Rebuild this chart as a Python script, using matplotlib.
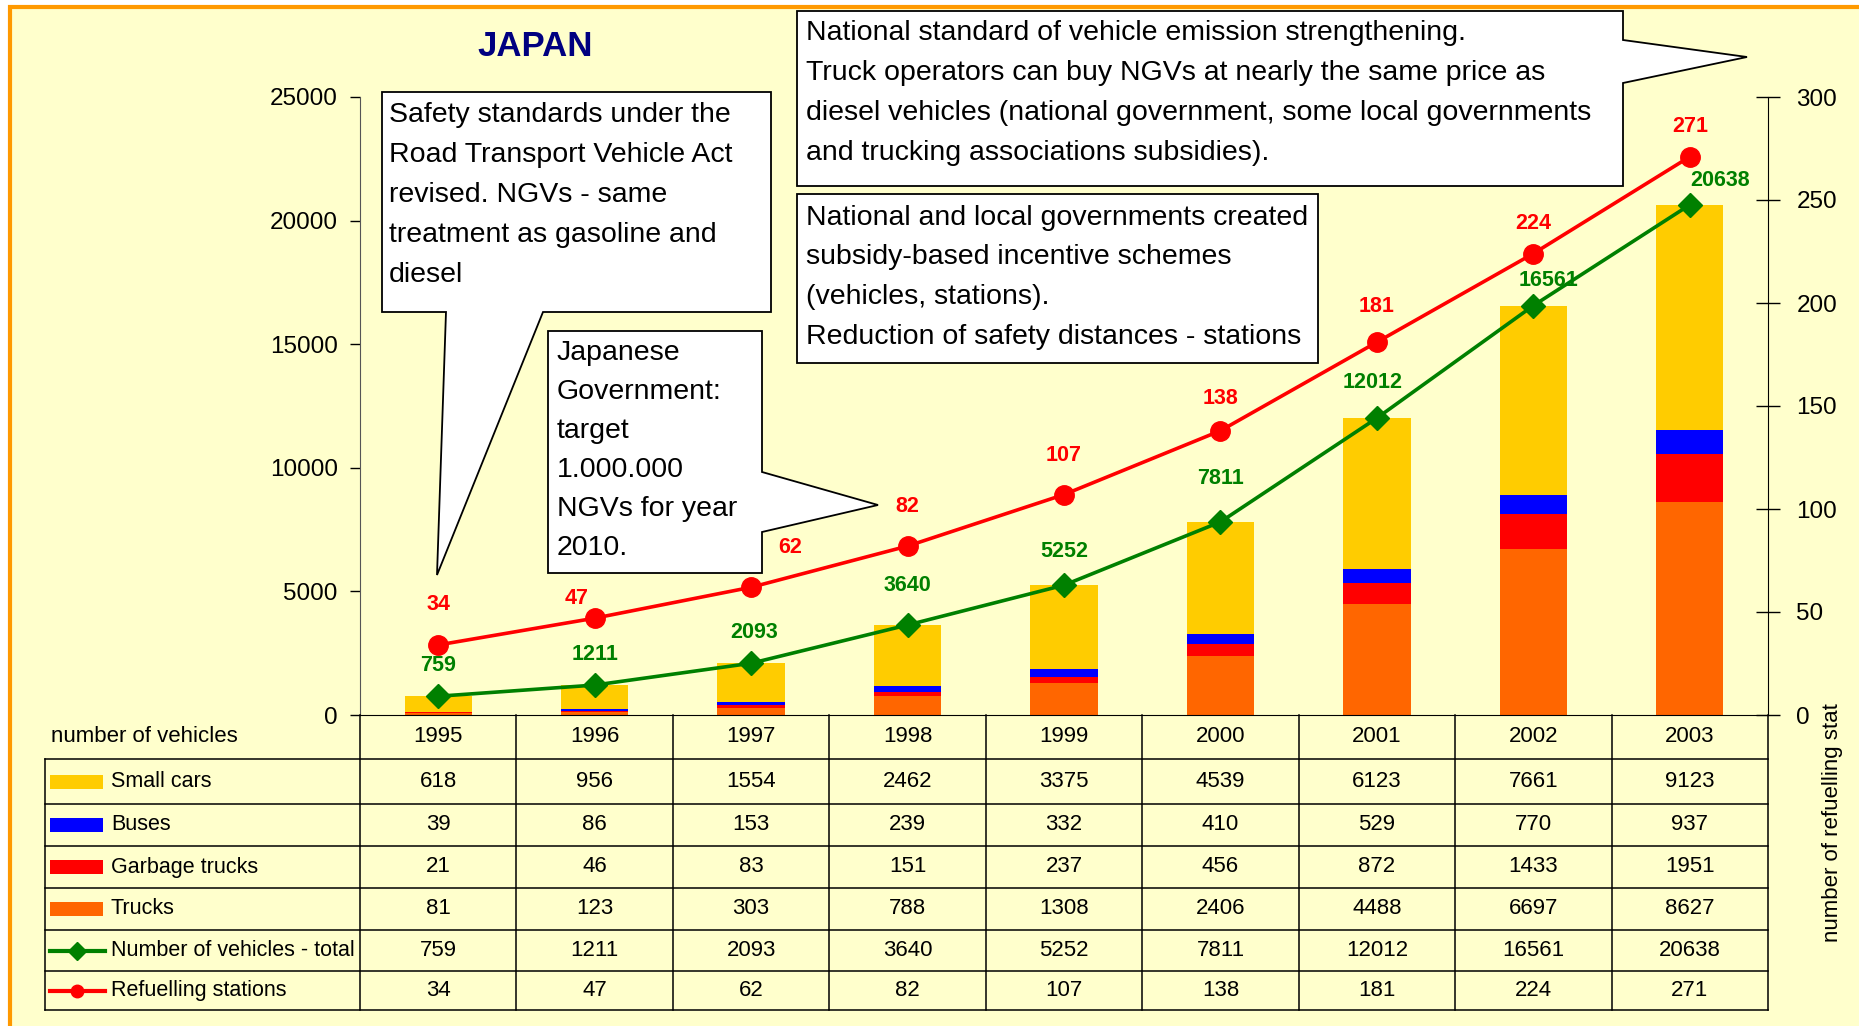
import numpy as np
import matplotlib.pyplot as plt
from matplotlib.patches import Rectangle, Polygon
from matplotlib.transforms import blended_transform_factory, Bbox
from matplotlib.lines import Line2D

plt.rcParams['font.family'] = ['Liberation Sans', 'DejaVu Sans']

#~~~~~~~~~~~~~~~~~~~~Data~~~~~~~~~~~~~~~~~~~
years = ['1995', '1996', '1997', '1998', '1999', '2000', '2001', '2002', '2003']
small_cars = [618, 956, 1554, 2462, 3375, 4539, 6123, 7661, 9123]
buses = [39, 86, 153, 239, 332, 410, 529, 770, 937]
garbage_trucks = [21, 46, 83, 151, 237, 456, 872, 1433, 1951]
trucks = [81, 123, 303, 788, 1308, 2406, 4488, 6697, 8627]
total = [759, 1211, 2093, 3640, 5252, 7811, 12012, 16561, 20638]
stations = [34, 47, 62, 82, 107, 138, 181, 224, 271]

row_names = ['Small cars', 'Buses', 'Garbage trucks', 'Trucks',
             'Number of vehicles - total', 'Refuelling stations']
row_colors = ['#FFCC00', '#0000FF', '#FF0000', '#FF6600', '#008000', '#FF0000']

#~~~~~~~~~~~~~~~~~~~~Layout (pixels)~~~~~~~~~~~~~~~~~~~
W, H = 1859, 1026
x_left, x_right = 360, 1768
y_top, y_zero = 97, 715
row_edges = [715, 759, 804, 846, 888, 930, 971, 1010]
tab_left = 45
# label offsets in pixels (dx, up)
green_off = [(0, 31), (0, 31), (3, 31), (0, 40), (0, 34), (0, 43), (-4, 36), (15, 25), (30, 24)]
red_off = [(0, 40), (-18, 20), (39, 40), (0, 40), (0, 39), (0, 32), (0, 36), (0, 30), (0, 30)]

fig = plt.figure(figsize=(W / 100, H / 100), dpi=100)
fig.patch.set_facecolor('white')

# yellow chart area with orange border
bg = fig.add_axes([0, 0, 1, 1], zorder=0)
bg.set_xlim(0, W)
bg.set_ylim(H, 0)
bg.axis('off')
bg.add_patch(Rectangle((10, 7), W + 20, H + 20, facecolor='#FFFFCC',
                       edgecolor='#FF9900', lw=3))

ax = fig.add_axes([x_left / W, (H - y_zero) / H, (x_right - x_left) / W,
                   (y_zero - y_top) / H], zorder=2)
ax.set_facecolor('none')
x = np.arange(len(years))

# stacked bars
bw = 0.43
bottom = np.zeros(len(years))
for vals, col in [(trucks, '#FF6600'), (garbage_trucks, '#FF0000'),
                  (buses, '#0000FF'), (small_cars, '#FFCC00')]:
    ax.bar(x, vals, bw, bottom=bottom, color=col, edgecolor='none', zorder=2)
    bottom += np.array(vals)

ax.plot(x, total, color='#008000', lw=2.6, marker='D', ms=12, zorder=4)
for xi, v, (dx, dy) in zip(x, total, green_off):
    ax.annotate(str(v), (xi, v), xytext=(dx, dy), textcoords='offset pixels',
                ha='center', va='center', color='#008000', fontsize=15.5,
                fontweight='bold', zorder=5)

ax.set_xlim(-0.5, len(years) - 0.5)
ax.set_ylim(0, 25000)
ax.set_yticks(np.arange(0, 25001, 5000))
ax.set_xticks([])
ax.tick_params(axis='y', direction='out', length=7, width=1, pad=9,
               labelsize=17.5, colors='black')
for s in ['top', 'right']:
    ax.spines[s].set_visible(False)
ax.spines['left'].set_color('#555555')
ax.spines['bottom'].set_color('black')

ax2 = ax.twinx()
ax2.set_ylim(0, 300)
ax2.set_yticks(np.arange(0, 301, 50))
ax2.plot(x, stations, color='#FF0000', lw=2.6, marker='o', ms=14, zorder=4)
for xi, v, (dx, dy) in zip(x, stations, red_off):
    ax2.annotate(str(v), (xi, v), xytext=(dx, dy), textcoords='offset pixels',
                 ha='center', va='center', color='#FF0000', fontsize=15.5,
                 fontweight='bold')
ax2.tick_params(axis='y', direction='inout', length=17, width=1, pad=12,
                labelsize=17.5)
for s in ['top', 'left', 'bottom']:
    ax2.spines[s].set_visible(False)
ax2.spines['right'].set_color('black')

# overlay for table + callouts
ov = fig.add_axes([0, 0, 1, 1], zorder=5)
ov.set_xlim(0, W)
ov.set_ylim(H, 0)
ov.axis('off')
ov.patch.set_alpha(0)

blend = blended_transform_factory(ax.transData, ov.transData)

# table grid
for y in row_edges[1:]:
    ov.plot([tab_left, x_right], [y, y], color='black', lw=1.1)
ov.plot([tab_left, tab_left], [row_edges[1], row_edges[-1]], color='black', lw=1.1)
ov.plot([x_left, x_left], [y_zero, row_edges[-1]], color='black', lw=1.1)
ov.plot([x_right, x_right], [y_zero, row_edges[-1]], color='black', lw=1.1)
for i in range(1, len(years)):
    ov.plot([i - 0.5, i - 0.5], [y_zero, row_edges[-1]], color='black', lw=1.1,
            transform=blend)

ov.text(51, 737, 'number of vehicles', fontsize=16, va='center', ha='left')
rows = [small_cars, buses, garbage_trucks, trucks, total, stations]
for i, yr in enumerate(years):
    ov.text(i, (row_edges[0] + row_edges[1]) / 2, yr, fontsize=16,
            ha='center', va='center', transform=blend)
for r, (vals, name, col) in enumerate(zip(rows, row_names, row_colors)):
    yc = (row_edges[r + 1] + row_edges[r + 2]) / 2
    for i, v in enumerate(vals):
        ov.text(i, yc, str(v), fontsize=16, ha='center', va='center',
                transform=blend)
    if r < 4:
        ov.add_patch(Rectangle((50, yc - 7), 53, 14, facecolor=col, edgecolor='none'))
    else:
        ov.add_line(Line2D([50, 105], [yc, yc], color=col, lw=3))
        ov.plot([77.5], [yc], marker='D' if r == 4 else 'o', color=col, ms=9)
    ov.text(111, yc, name, fontsize=15.5, ha='left', va='center')

# title and right axis label
ov.text(535, 46, 'JAPAN', fontsize=25, fontweight='bold', color='#000080',
        ha='center', va='center')
lab = ov.text(1833, 942, 'number of refuelling stations', fontsize=16,
              rotation=90, ha='center', va='bottom', clip_on=True)
lab.set_clip_box(Bbox.from_extents(1790, 0, W, H - 703))

# callouts
def callout(pts, lines, x0, y0, size=20.5, step=40):
    ov.add_patch(Polygon(pts, closed=True, facecolor='white', edgecolor='black',
                         lw=1.3, zorder=6))
    for k, t in enumerate(lines):
        ov.text(x0, y0 + k * step, t, fontsize=size, ha='left', va='center',
                zorder=7)

callout([(382, 92), (771, 92), (771, 312), (543, 312), (437, 575),
         (446, 312), (382, 312)],
        ['Safety standards under the', 'Road Transport Vehicle Act',
         'revised. NGVs - same', 'treatment as gasoline and', 'diesel'],
        389, 115)
callout([(548, 331), (762, 331), (762, 472), (878, 505), (762, 532),
         (762, 573), (548, 573)],
        ['Japanese', 'Government:', 'target', '1.000.000', 'NGVs for year', '2010.'],
        557, 353, step=39)
callout([(797, 11), (1623, 11), (1623, 40), (1747, 57), (1623, 83),
         (1623, 186), (797, 186)],
        ['National standard of vehicle emission strengthening.',
         'Truck operators can buy NGVs at nearly the same price as',
         'diesel vehicles (national government, some local governments',
         'and trucking associations subsidies).'],
        806, 33)
callout([(797, 194), (1318, 194), (1318, 363), (797, 363)],
        ['National and local governments created',
         'subsidy-based incentive schemes', '(vehicles, stations).',
         'Reduction of safety distances - stations'],
        806, 218, step=39.5)

plt.savefig('out.png', dpi=100, facecolor=fig.get_facecolor())
